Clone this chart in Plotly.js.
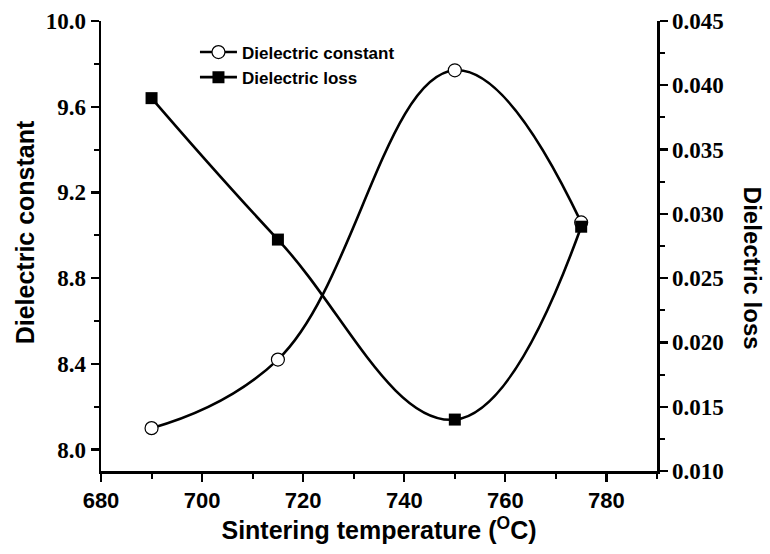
<!DOCTYPE html>
<html>
<head>
<meta charset="utf-8">
<script src="https://cdn.plot.ly/plotly-3.0.1.min.js"></script>
<style>html,body{margin:0;padding:0;background:#fff;}#chart{width:770px;height:554px;}</style>
</head>
<body>
<div id="chart"></div>
<script>
const temperature = [690, 715, 750, 775];
const dielectricConstant = [8.10, 8.42, 9.77, 9.06];
const dielectricLoss = [0.039, 0.028, 0.014, 0.029];
const seriesNames = ["Dielectric constant", "Dielectric loss"];
const axisTitles = ["Sintering temperature (<sup>O</sup>C)", "Dielectric constant", "Dielectric loss"];

const serif = "Liberation Serif, Times New Roman, serif";
const sans = "Liberation Sans, Arial, sans-serif";

const traces = [
  {
    x: temperature, y: dielectricConstant, name: seriesNames[0],
    type: "scatter", mode: "lines+markers",
    line: {color: "#000", width: 2.6, shape: "spline", smoothing: 1.2},
    marker: {symbol: "circle", size: 13, color: "#fff", line: {color: "#000", width: 1.2}},
    xaxis: "x", yaxis: "y"
  },
  {
    x: temperature, y: dielectricLoss, name: seriesNames[1],
    type: "scatter", mode: "lines+markers",
    line: {color: "#000", width: 2.6, shape: "spline", smoothing: 1.2},
    marker: {symbol: "square", size: 12, color: "#000", line: {color: "#000", width: 0}},
    xaxis: "x", yaxis: "y2"
  }
];

const layout = {
  width: 770, height: 554,
  margin: {l: 101, r: 113, t: 21, b: 83, pad: 0},
  paper_bgcolor: "#fff", plot_bgcolor: "#fff",
  showlegend: true,
  legend: {
    x: 0.169, y: 0.97, xanchor: "left", yanchor: "top",
    bgcolor: "rgba(0,0,0,0)", borderwidth: 0, itemwidth: 37,
    font: {family: sans, size: 17, color: "#000", weight: "bold"},
    tracegroupgap: 0
  },
  xaxis: {
    range: [680, 790], dtick: 20, tick0: 680,
    showgrid: false, zeroline: false,
    showline: true, linecolor: "#000", linewidth: 2.5,
    ticks: "outside", ticklen: 8, tickwidth: 2.2, tickcolor: "#000",
    minor: {dtick: 10, ticks: "outside", ticklen: 5, tickwidth: 2, tickcolor: "#000"},
    tickfont: {family: sans, size: 22, color: "#000", weight: "bold"},
    title: {text: axisTitles[0], font: {family: sans, size: 25, color: "#000", weight: "bold"}, standoff: 8}
  },
  xaxis2: {
    range: [680, 790], dtick: 20, tick0: 680, overlaying: "x", side: "top", anchor: "y",
    showgrid: false, zeroline: false, showticklabels: false,
    showline: true, linecolor: "#000", linewidth: 2.5,
    ticks: "inside", ticklen: 8, tickwidth: 2.2, tickcolor: "#000",
    minor: {dtick: 10, ticks: "inside", ticklen: 5, tickwidth: 2, tickcolor: "#000"}
  },
  yaxis: {
    range: [7.9, 10.0], dtick: 0.4, tick0: 8.0, tickformat: ".1f",
    showgrid: false, zeroline: false,
    showline: true, linecolor: "#000", linewidth: 2.5,
    ticks: "outside", ticklen: 8, tickwidth: 2.2, tickcolor: "#000",
    minor: {dtick: 0.2, ticks: "outside", ticklen: 5, tickwidth: 2, tickcolor: "#000"},
    tickfont: {family: serif, size: 23, color: "#000", weight: "bold"}
  },
  yaxis2: {
    range: [0.010, 0.045], dtick: 0.005, tick0: 0.010, tickformat: ".3f",
    overlaying: "y", side: "right", anchor: "x",
    showgrid: false, zeroline: false,
    showline: true, linecolor: "#000", linewidth: 2.5,
    ticks: "outside", ticklen: 8, tickwidth: 2.2, tickcolor: "#000",
    minor: {dtick: 0.0025, ticks: "outside", ticklen: 5, tickwidth: 2, tickcolor: "#000"},
    tickfont: {family: serif, size: 23, color: "#000", weight: "bold"}
  },
  annotations: [
    {
      text: axisTitles[1], xref: "paper", yref: "paper", x: -0.137, y: 0.53,
      xanchor: "center", yanchor: "middle", textangle: -90, showarrow: false,
      font: {family: sans, size: 25, color: "#000", weight: "bold"}
    },
    {
      text: axisTitles[2], xref: "paper", yref: "paper", x: 1.172, y: 0.45,
      xanchor: "center", yanchor: "middle", textangle: 90, showarrow: false,
      font: {family: sans, size: 24, color: "#000", weight: "bold"}
    }
  ]
};

Plotly.newPlot("chart", traces, layout, {staticPlot: true, displayModeBar: false});
</script>
</body>
</html>
